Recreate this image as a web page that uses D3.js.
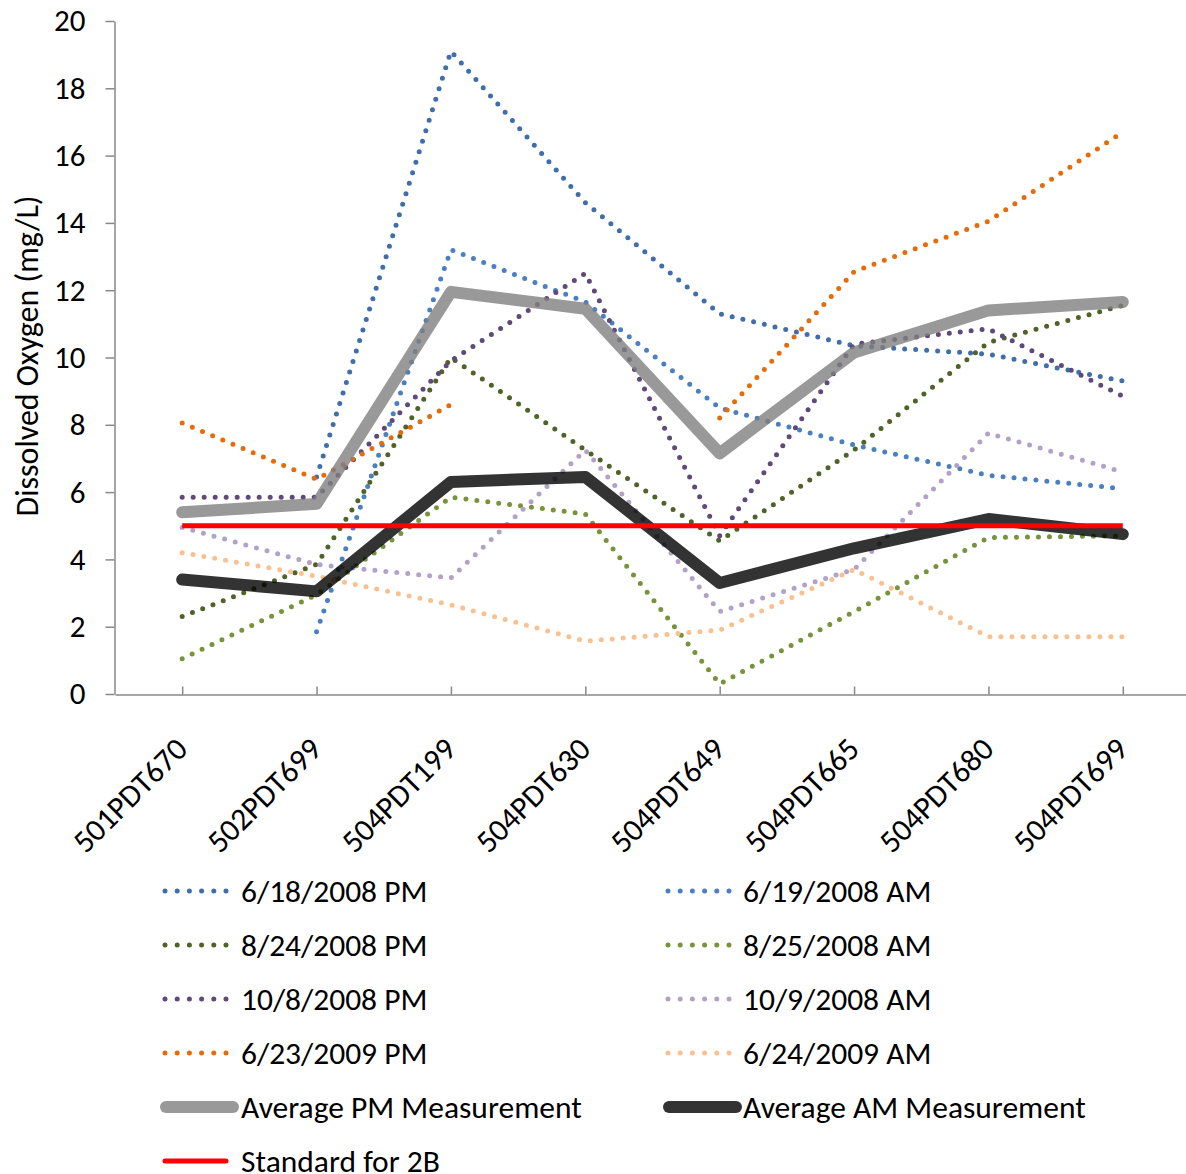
<!DOCTYPE html>
<html>
<head>
<meta charset="utf-8">
<script src="https://cdn.jsdelivr.net/npm/d3@7"></script>
<style>
  html, body { margin: 0; padding: 0; background: #fff; }
  svg text { font-family: Carlito, Calibri, Lato, sans-serif; fill: #000; }
</style>
</head>
<body>
<svg id="chart" width="1186" height="1174"></svg>
<script>
// sampling stations
const categories = ["501PDT670", "502PDT699", "504PDT199", "504PDT630",
                    "504PDT649", "504PDT665", "504PDT680", "504PDT699"];

// dissolved oxygen, mg/L (null = no reading)
const pm0618 = [null, 6.45, 19.1, 14.6, 11.3, 10.35, 10.1, 9.3];
const am0619 = [null, 1.85, 13.2, 11.65, 8.5, 7.4, 6.5, 6.1];
const pm0824 = [2.3, 3.85, 10.0, 7.25, 4.55, 7.25, 10.45, 11.55];
const am0825 = [1.05, 2.95, 5.85, 5.35, 0.3, 2.45, 4.65, 4.7];
const pm1008 = [5.85, 5.85, 9.9, 12.5, 4.7, 10.4, 10.85, 8.85];
const am1009 = [4.95, 3.85, 3.45, 7.25, 2.45, 3.7, 7.75, 6.6];
const pm0623 = [8.05, 6.38, 8.6, null, 8.2, 12.55, 14.05, 16.7];
const am0624 = [4.2, 3.5, 2.65, 1.57, 1.9, 3.7, 1.7, 1.7];
const avgPM  = [5.4, 5.65, 11.95, 11.45, 7.15, 10.15, 11.4, 11.65];
const avgAM  = [3.4, 3.05, 6.3, 6.45, 3.3, 4.33, 5.2, 4.75];
const standard2B = [5, 5, 5, 5, 5, 5, 5, 5];

const yTicks = [0, 2, 4, 6, 8, 10, 12, 14, 16, 18, 20];

// series table built from the arrays above
const dotted = [
  {name: "6/18/2008 PM", values: pm0618, color: "#3f6eab"},
  {name: "6/19/2008 AM", values: am0619, color: "#4a80c2"},
  {name: "8/24/2008 PM", values: pm0824, color: "#4f6228"},
  {name: "8/25/2008 AM", values: am0825, color: "#77933c"},
  {name: "10/8/2008 PM", values: pm1008, color: "#5f497a"},
  {name: "10/9/2008 AM", values: am1009, color: "#b3a2c7"},
  {name: "6/23/2009 PM", values: pm0623, color: "#e46c0a"},
  {name: "6/24/2009 AM", values: am0624, color: "#fac090"}
];
const averages = [
  {name: "Average PM Measurement", values: avgPM, color: "#808080", opacity: 0.8},
  {name: "Average AM Measurement", values: avgAM, color: "#000000", opacity: 0.8}
];
const standard = {name: "Standard for 2B", values: standard2B, color: "#ff0000"};

const fontPx = "31.5px";

const svg = d3.select("#chart");

const x = d3.scalePoint().domain(categories).range([115, 1190]).padding(0.5);
const y = d3.scaleLinear().domain([0, 20]).range([694, 21]);

// y axis
const yAxis = svg.append("g")
  .attr("transform", "translate(114.5,0)")
  .call(d3.axisLeft(y).tickValues(yTicks).tickSize(9).tickSizeOuter(0).tickPadding(20));
yAxis.selectAll("path, line").attr("stroke", "#888").attr("stroke-width", 1.5);
yAxis.selectAll("text").style("font-size", "31px");

svg.append("text")
  .attr("transform", "translate(27,356) rotate(-90)")
  .attr("text-anchor", "middle")
  .attr("dominant-baseline", "central")
  .style("font-size", "32px")
  .text("Dissolved Oxygen (mg/L)");

// x axis (ticks sit on the categories, pointing up)
const xAxis = svg.append("g")
  .attr("transform", "translate(0,694.5)")
  .call(d3.axisBottom(x).tickSizeInner(-8).tickSizeOuter(0).tickFormat(""));
xAxis.selectAll("path, line").attr("stroke", "#888").attr("stroke-width", 1.5);

svg.append("g").selectAll("text")
  .data(categories)
  .join("text")
  .attr("transform", d => "translate(" + (x(d) + 7) + ",751) rotate(-45)")
  .attr("text-anchor", "end")
  .style("font-size", fontPx)
  .text(d => d);

const line = d3.line()
  .defined(d => d.v != null)
  .x(d => x(d.c))
  .y(d => y(d.v));
const pts = vals => categories.map((c, i) => ({c: c, v: vals[i]}));

const plot = svg.append("g");

plot.selectAll(".dot-series")
  .data(dotted)
  .join("path")
  .attr("class", "dot-series")
  .attr("fill", "none")
  .attr("stroke", d => d.color)
  .attr("stroke-width", 5)
  .attr("stroke-linecap", "round")
  .attr("stroke-dasharray", "0 11")
  .attr("d", d => line(pts(d.values)));

plot.selectAll(".avg-series")
  .data(averages)
  .join("path")
  .attr("class", "avg-series")
  .attr("fill", "none")
  .attr("stroke", d => d.color)
  .attr("stroke-opacity", d => d.opacity)
  .attr("stroke-width", 12)
  .attr("stroke-linejoin", "round")
  .attr("stroke-linecap", "round")
  .attr("d", d => line(pts(d.values)));

plot.append("path")
  .attr("fill", "none")
  .attr("stroke", standard.color)
  .attr("stroke-width", 5)
  .attr("d", line(pts(standard.values)));

// legend: two columns
const rowY = d3.scalePoint().domain(d3.range(6)).range([891, 1161]);
const leftCol = [dotted[0], dotted[2], dotted[4], dotted[6], averages[0], standard];
const rightCol = [dotted[1], dotted[3], dotted[5], dotted[7], averages[1]];

function legendColumn(items, x0, tx) {
  const g = svg.append("g");
  const rows = g.selectAll("g").data(items).join("g")
    .attr("transform", (d, i) => "translate(0," + rowY(i) + ")");
  rows.append("line")
    .attr("x1", d => d.opacity ? x0 + 1 : x0)
    .attr("x2", d => d.opacity ? x0 + 68 : x0 + 61)
    .attr("stroke", d => d.color)
    .attr("stroke-opacity", d => d.opacity || 1)
    .attr("stroke-width", d => d.opacity ? 12 : 5)
    .attr("stroke-linecap", "round")
    .attr("stroke-dasharray", d => (d.opacity || d === standard) ? null : "0 12.2");
  rows.append("text")
    .attr("x", tx)
    .attr("dy", "0.35em")
    .style("font-size", fontPx)
    .text(d => d.name);
}
legendColumn(leftCol, 165, 241);
legendColumn(rightCol, 668, 743);
</script>
</body>
</html>
